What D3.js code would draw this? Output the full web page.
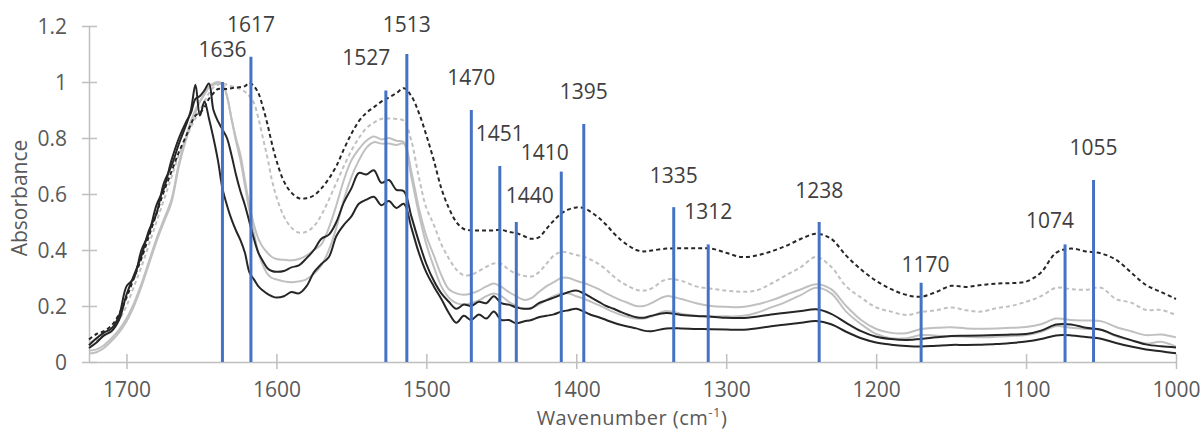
<!DOCTYPE html>
<html><head><meta charset="utf-8">
<script src="https://cdn.jsdelivr.net/npm/d3@7"></script>
<style>body{margin:0;background:#fff} svg{display:block} text{font-family:"Open Sans",sans-serif}</style>
</head><body><svg id="c" width="1204" height="430"></svg>
<script>
const wavenumbers = [1725,1720,1715,1710,1705,1700,1695,1690,1685,1680,1675,1670,1665,1660,
1657,1654,1651,1648,1645,1642,1639,1636,1633,1630,1627,1624,1621,1618,1615,1612,1609,1606,1603,1600,
1595,1590,1585,1580,1575,1570,1565,1560,1555,1550,1545,1540,1535,1530,1525,1520,1515,1510,1505,1500,
1495,1490,1485,1480,1475,1470,1465,1460,1455,1450,1445,1440,1435,1430,1425,1420,1415,1410,1405,1400,1395,1390,1385,1380,1375,1370,1365,1360,1355,1350,
1340,1330,1320,1310,1300,1290,1280,1270,1260,1250,1240,1230,1220,1210,1200,1190,1180,1170,1160,1150,1140,1130,1120,1110,1100,1090,1080,1070,1060,1050,1040,1030,1020,1010,1000];

const darkDashed = [0.08,0.10,0.11,0.13,0.17,0.23,0.30,0.37,0.45,0.53,0.61,0.68,0.75,0.81,
0.85,0.88,0.89,0.91,0.94,0.96,0.975,0.975,0.975,0.978,0.98,0.982,0.985,0.997,0.985,0.96,0.91,0.85,0.78,0.72,
0.645,0.605,0.585,0.585,0.595,0.62,0.655,0.70,0.76,0.815,0.86,0.89,0.91,0.93,0.945,0.96,0.978,0.95,0.89,0.81,
0.72,0.62,0.55,0.50,0.475,0.47,0.47,0.47,0.47,0.472,0.465,0.46,0.45,0.44,0.445,0.475,0.505,0.53,0.545,0.552,0.55,0.535,0.515,0.49,0.46,0.435,0.415,0.40,0.395,0.398,
0.405,0.406,0.406,0.405,0.39,0.375,0.38,0.395,0.415,0.44,0.458,0.44,0.38,0.33,0.29,0.26,0.24,0.233,0.25,0.272,0.268,0.275,0.28,0.282,0.287,0.32,0.39,0.405,0.395,0.388,0.365,0.32,0.275,0.25,0.225];

const grayDashed = [0.07,0.08,0.095,0.115,0.15,0.20,0.27,0.34,0.42,0.50,0.58,0.66,0.74,0.80,
0.84,0.87,0.90,0.93,0.96,0.98,0.99,0.995,0.99,0.985,0.98,0.975,0.965,0.95,0.925,0.87,0.80,0.73,0.65,0.59,
0.52,0.48,0.462,0.465,0.485,0.525,0.58,0.64,0.70,0.755,0.80,0.835,0.855,0.868,0.87,0.868,0.862,0.79,0.66,0.55,
0.49,0.42,0.37,0.33,0.31,0.312,0.325,0.34,0.352,0.35,0.33,0.315,0.308,0.305,0.32,0.35,0.38,0.393,0.39,0.382,0.376,0.365,0.35,0.33,0.305,0.285,0.27,0.258,0.255,0.262,
0.295,0.29,0.27,0.262,0.255,0.251,0.255,0.28,0.31,0.34,0.375,0.34,0.27,0.23,0.195,0.18,0.168,0.178,0.185,0.195,0.185,0.18,0.192,0.2,0.215,0.235,0.265,0.26,0.258,0.265,0.225,0.212,0.186,0.186,0.168];

const grayUpper = [0.04,0.045,0.06,0.085,0.115,0.155,0.21,0.28,0.36,0.44,0.51,0.58,0.71,0.81,
0.86,0.90,0.93,0.96,0.985,0.995,1.0,0.995,0.95,0.87,0.80,0.74,0.65,0.56,0.49,0.44,0.41,0.39,0.375,0.368,
0.365,0.363,0.368,0.38,0.40,0.42,0.48,0.56,0.65,0.72,0.76,0.79,0.805,0.795,0.80,0.79,0.785,0.68,0.55,0.45,
0.38,0.31,0.26,0.245,0.24,0.245,0.255,0.27,0.28,0.268,0.25,0.235,0.222,0.228,0.25,0.27,0.285,0.30,0.30,0.29,0.282,0.272,0.26,0.245,0.232,0.22,0.21,0.20,0.20,0.21,
0.235,0.225,0.21,0.20,0.197,0.196,0.205,0.22,0.24,0.26,0.278,0.26,0.20,0.15,0.118,0.104,0.103,0.118,0.122,0.124,0.12,0.119,0.12,0.122,0.125,0.135,0.155,0.15,0.148,0.146,0.125,0.11,0.096,0.098,0.088];

const grayLower = [0.03,0.035,0.05,0.075,0.105,0.145,0.20,0.27,0.35,0.43,0.50,0.57,0.70,0.80,
0.85,0.89,0.93,0.955,0.98,0.99,0.995,0.99,0.95,0.87,0.79,0.72,0.63,0.54,0.46,0.39,0.345,0.315,0.30,0.295,
0.288,0.285,0.288,0.295,0.315,0.345,0.40,0.48,0.58,0.66,0.72,0.765,0.785,0.78,0.78,0.775,0.78,0.66,0.53,0.42,
0.34,0.27,0.23,0.21,0.205,0.21,0.22,0.235,0.245,0.235,0.215,0.20,0.19,0.193,0.205,0.222,0.235,0.245,0.245,0.235,0.226,0.215,0.203,0.19,0.178,0.168,0.16,0.155,0.155,0.162,
0.182,0.172,0.165,0.163,0.163,0.164,0.175,0.195,0.215,0.24,0.265,0.245,0.18,0.135,0.10,0.085,0.085,0.096,0.094,0.092,0.09,0.088,0.09,0.093,0.096,0.108,0.128,0.122,0.118,0.115,0.092,0.078,0.066,0.072,0.055];

const blackUpper = [0.06,0.085,0.105,0.12,0.165,0.27,0.30,0.40,0.46,0.56,0.62,0.72,0.80,0.86,
0.89,0.94,0.95,0.97,0.995,0.90,0.86,0.83,0.80,0.74,0.67,0.61,0.56,0.50,0.44,0.39,0.36,0.335,0.325,0.322,
0.325,0.338,0.345,0.37,0.40,0.44,0.455,0.50,0.57,0.62,0.675,0.67,0.685,0.64,0.65,0.615,0.61,0.52,0.43,0.35,
0.29,0.245,0.215,0.19,0.205,0.20,0.215,0.21,0.235,0.21,0.205,0.195,0.19,0.192,0.21,0.22,0.23,0.24,0.25,0.255,0.245,0.23,0.215,0.20,0.19,0.178,0.168,0.16,0.158,0.165,
0.175,0.168,0.164,0.162,0.158,0.157,0.162,0.17,0.176,0.182,0.188,0.172,0.14,0.11,0.09,0.082,0.079,0.082,0.088,0.093,0.094,0.095,0.096,0.098,0.10,0.112,0.134,0.134,0.122,0.115,0.095,0.078,0.063,0.056,0.052];

const blackLower = [0.05,0.07,0.095,0.11,0.15,0.24,0.31,0.38,0.47,0.53,0.64,0.70,0.78,0.85,
0.90,0.99,0.88,0.93,0.87,0.80,0.72,0.62,0.56,0.51,0.47,0.435,0.39,0.32,0.295,0.27,0.255,0.243,0.235,0.23,
0.235,0.25,0.245,0.27,0.32,0.35,0.375,0.45,0.49,0.52,0.565,0.58,0.59,0.56,0.575,0.55,0.565,0.48,0.39,0.32,
0.27,0.225,0.175,0.14,0.165,0.15,0.17,0.155,0.18,0.15,0.15,0.138,0.145,0.15,0.16,0.165,0.17,0.18,0.185,0.19,0.18,0.168,0.16,0.15,0.14,0.132,0.126,0.12,0.112,0.11,
0.12,0.12,0.118,0.117,0.116,0.115,0.12,0.128,0.134,0.14,0.146,0.135,0.108,0.085,0.07,0.062,0.057,0.055,0.058,0.061,0.061,0.062,0.064,0.068,0.073,0.082,0.095,0.095,0.089,0.083,0.068,0.055,0.045,0.038,0.031];

const xTicks = [1700,1600,1500,1400,1300,1200,1100,1000];
const yTicks = [0,0.2,0.4,0.6,0.8,1,1.2];
const peakWn = [1636,1617,1527,1513,1470,1451,1440,1410,1395,1335,1312,1238,1170,1074,1055];
const peakTop = [1.0,1.09,0.97,1.10,0.90,0.70,0.50,0.68,0.85,0.553,0.42,0.50,0.283,0.42,0.65];
const labelWn = [1636,1617,1540,1513,1470,1451,1431,1421,1395,1335,1312,1238,1167,1084,1055];
const labelAbs = [1.114,1.204,1.086,1.204,1.014,0.814,0.595,0.746,0.964,0.665,0.537,0.6125,0.346,0.504,0.766];

const svg = d3.select("#c");
const x = d3.scaleLinear().domain([1725,1000]).range([89,1176]);
const y = d3.scaleLinear().domain([0,1.2]).range([362,26]);
const axisCol = "#bfbfbf", tickText = "#595959", fs = 21;

// axes
const gx = svg.append("g").attr("transform","translate(0,362)")
  .call(d3.axisBottom(x).tickValues(xTicks).tickSize(7).tickSizeOuter(0).tickFormat(d3.format("d")));
gx.select(".domain").attr("stroke",axisCol).attr("stroke-width",1.5);
gx.selectAll(".tick line").attr("stroke",axisCol).attr("stroke-width",1.5).attr("y1",-8).attr("y2",7);
gx.selectAll(".tick text").attr("fill",tickText).attr("font-size",fs).attr("font-family","Open Sans").attr("y",35).attr("dy",null);

const gy = svg.append("g").attr("transform","translate(89,0)")
  .call(d3.axisLeft(y).tickValues(yTicks).tickSize(7).tickSizeOuter(0).tickFormat(d=>String(d)));
gy.select(".domain").attr("stroke",axisCol).attr("stroke-width",1.5);
gy.selectAll(".tick line").attr("stroke",axisCol).attr("stroke-width",1.5).attr("x1",8).attr("x2",-7);
gy.selectAll(".tick text").attr("fill",tickText).attr("font-size",fs).attr("font-family","Open Sans").attr("x",-22).attr("dy","0.35em");

// titles
svg.append("text").attr("transform","translate(20,198) rotate(-90)").attr("text-anchor","middle")
  .attr("dy","0.35em").attr("fill",tickText).attr("font-size",fs).text("Absorbance");
const xt = svg.append("text").attr("x",632).attr("y",425).attr("text-anchor","middle").attr("fill",tickText)
  .attr("font-size",20).attr("letter-spacing",0.5);
xt.append("tspan").text("Wavenumber (cm");
xt.append("tspan").attr("font-size",13).attr("dy",-8).text("-1");
xt.append("tspan").attr("dy",8).text(")");

// curves
const series = [
  {v: grayUpper, c:"#c0c0c0", d:null},
  {v: grayLower, c:"#c0c0c0", d:null},
  {v: grayDashed, c:"#c0c0c0", d:"4,3"},
  {v: blackUpper, c:"#262626", d:null},
  {v: blackLower, c:"#262626", d:null},
  {v: darkDashed, c:"#262626", d:"4,3"}
];
const line = d3.line().x((d,i)=>x(wavenumbers[i])).y(d=>y(d)).curve(d3.curveCatmullRom.alpha(0.5));
svg.append("g").selectAll("path").data(series).join("path")
  .attr("d", s=>line(s.v)).attr("fill","none").attr("stroke",s=>s.c)
  .attr("stroke-width",2).attr("stroke-dasharray",s=>s.d).attr("stroke-linejoin","round");

// peak markers
svg.append("g").selectAll("line").data(peakWn).join("line")
  .attr("x1",d=>x(d)).attr("x2",d=>x(d)).attr("y1",y(0)).attr("y2",(d,i)=>y(peakTop[i]))
  .attr("stroke","#4472c4").attr("stroke-width",3);
svg.append("g").selectAll("text").data(peakWn).join("text")
  .attr("x",(d,i)=>x(labelWn[i])).attr("y",(d,i)=>y(labelAbs[i])).attr("dy","0.35em")
  .attr("text-anchor","middle").attr("fill","#404040").attr("font-size",fs).text(d=>String(d));
</script></body></html>
